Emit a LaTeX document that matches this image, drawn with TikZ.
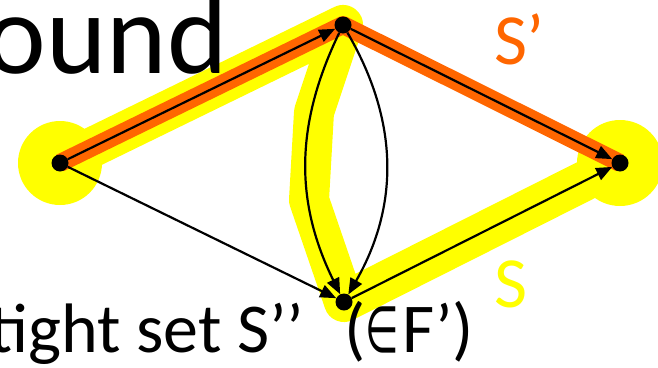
\documentclass[tikz,border=0pt]{standalone}
\usepackage{fontspec}
\setmainfont{Carlito}
\newfontfamily\dejavu{DejaVu Sans}
\usetikzlibrary{arrows.meta,backgrounds}
\definecolor{hlyellow}{RGB}{255,255,0}
\definecolor{hlorange}{RGB}{255,102,0}
\begin{document}
\begin{tikzpicture}[x=1pt,y=-1pt,
  vtx/.style={circle,fill=black,inner sep=0pt,minimum size=17pt},
  arc/.style={-{Triangle[length=16pt,width=13pt]},line width=2.2pt},
  ylw/.style={hlyellow,line width=40pt,line join=round,line cap=round},
  org/.style={hlorange,line width=18pt,line join=round},
  lbl/.style={inner sep=0pt}]
\useasboundingbox (0,0) rectangle (658,367);
\clip (0,0) rectangle (658,367);
% text
\node[lbl,anchor=base east,font=\fontsize{115}{115}\selectfont] (bound) at (228,73) {bound};
\node[lbl,anchor=base east,font=\fontsize{70}{70}\selectfont] (tight) at (474,352) {tight set S’’\hspace{0.35em} (\scalebox{0.55}[0.92]{\dejavu ∈}\hspace{0.05em}F’)};
\node[lbl,anchor=base west,text=hlorange,font=\fontsize{72}{72}\selectfont] (sp) at (494,64) {S’};
\node[lbl,anchor=base west,text=hlyellow,font=\fontsize{72}{72}\selectfont] (s) at (494,307) {S};
% vertices
\node[vtx] (a) at (60,163) {};
\node[vtx] (t) at (343,25) {};
\node[vtx] (r) at (620,163) {};
\node[vtx] (b) at (344,302) {};
% highlights
\begin{scope}[on background layer]
  \fill[hlyellow] (a.center) circle (42pt);
  \fill[hlyellow] (r.center) circle (43pt);
  \draw[ylw] (a.center) -- (t.center) -- (314,112) -- (309,200) -- (b.center) -- (r.center);
  \draw[org] (a.center) -- (t.center) -- (r.center);
\end{scope}
% edges
\draw[arc] (a) -- (t);
\draw[arc] (t) -- (r);
\draw[arc] (a) -- (b);
\draw[arc] (b) -- (r);
\draw[arc] (t) to[bend right=26] (b);
\draw[arc] (t) to[bend left=30] (b);
\end{tikzpicture}
\end{document}
